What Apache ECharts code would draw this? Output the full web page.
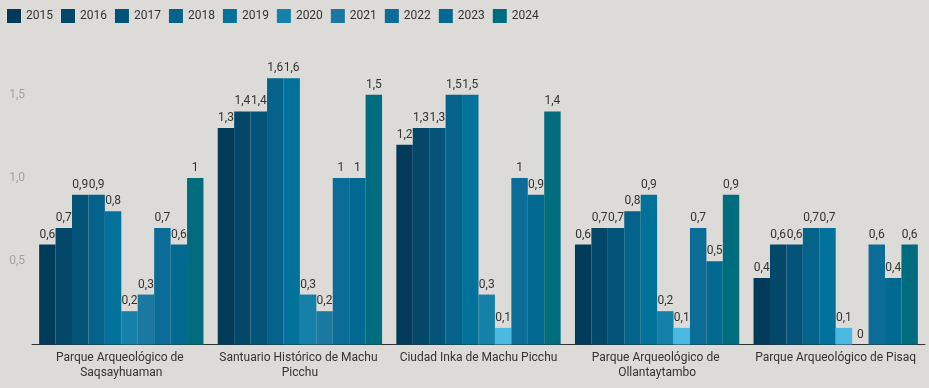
<!DOCTYPE html>
<html>
<head>
<meta charset="utf-8">
<script src="https://cdn.jsdelivr.net/npm/echarts@6/dist/echarts.min.js"></script>
<style>
html,body{margin:0;padding:0;background:#dcdbd8;}
#chart{width:929px;height:388px;}
</style>
</head>
<body>
<div id="chart"></div>
<script>
const categories = [
  "Parque Arqueológico de Saqsayhuaman",
  "Santuario Histórico de Machu Picchu",
  "Ciudad Inka de Machu Picchu",
  "Parque Arqueológico de Ollantaytambo",
  "Parque Arqueológico de Pisaq"
];
const years = ["2015","2016","2017","2018","2019","2020","2021","2022","2023","2024"];
const v2015 = [0.6, 1.3, 1.2, 0.6, 0.4];
const v2016 = [0.7, 1.4, 1.3, 0.7, 0.6];
const v2017 = [0.9, 1.4, 1.3, 0.7, 0.6];
const v2018 = [0.9, 1.6, 1.5, 0.8, 0.7];
const v2019 = [0.8, 1.6, 1.5, 0.9, 0.7];
const v2020 = [0.2, 0.3, 0.3, 0.2, 0.1];
const v2021 = [0.3, 0.2, 0.1, 0.1, 0];
const v2022 = [0.7, 1.0, 1.0, 0.7, 0.6];
const v2023 = [0.6, 1.0, 0.9, 0.5, 0.4];
const v2024 = [1.0, 1.5, 1.4, 0.9, 0.6];
const yTicks = [0.5, 1.0, 1.5];

const seriesValues = [v2015, v2016, v2017, v2018, v2019, v2020, v2021, v2022, v2023, v2024];
const colors = ["#023a5a","#034869","#045479","#05628a","#03729a","#1580a8","#1b78a0","#0b6c98","#026a90","#006d7e"];
const lowColor = "#4ab9e2";

const fmt = v => {
  const s = String(Math.round(v * 10) / 10);
  return s.replace('.', ',');
};

const chart = echarts.init(document.getElementById('chart'), null, {renderer: 'canvas'});
chart.setOption({
  backgroundColor: '#dcdbd8',
  animation: false,
  textStyle: {fontFamily: 'Roboto'},
  color: colors,
  legend: {
    left: 2, top: 4,
    itemWidth: 14, itemHeight: 14,
    itemGap: 8,
    icon: 'rect',
    textStyle: {fontFamily: 'Roboto', fontSize: 12, color: '#333'},
    data: years
  },
  grid: {left: 32, right: 4, top: 61.5, bottom: 43.5},
  xAxis: {
    type: 'category',
    data: categories,
    axisLine: {lineStyle: {color: '#333', width: 1}},
    axisTick: {show: false},
    axisLabel: {
      fontFamily: 'Roboto', fontSize: 12, color: '#333',
      interval: 0, width: 172, overflow: 'break', lineHeight: 15, margin: 6
    }
  },
  yAxis: {
    type: 'value',
    min: 0, max: 1.7, interval: 0.5,
    axisLine: {show: false},
    axisTick: {show: false},
    splitLine: {show: false},
    axisLabel: {
      fontFamily: 'Roboto', fontSize: 12, color: '#a5a3a0', margin: 7,
      showMinLabel: false, showMaxLabel: false,
      formatter: v => (yTicks.indexOf(Math.round(v*10)/10) >= 0 ? v.toFixed(1).replace('.', ',') : '')
    }
  },
  series: years.map((y, i) => ({
    name: y,
    type: 'bar',
    data: seriesValues[i],
    barGap: '0%',
    barCategoryGap: '8%',
    itemStyle: {
      color: p => (p.value <= 0.1 ? lowColor : colors[i])
    },
    label: {
      show: true, position: 'top', distance: 4,
      fontFamily: 'Roboto', fontSize: 12, color: '#333',
      formatter: p => fmt(p.value)
    }
  }))
});
</script>
</body>
</html>
